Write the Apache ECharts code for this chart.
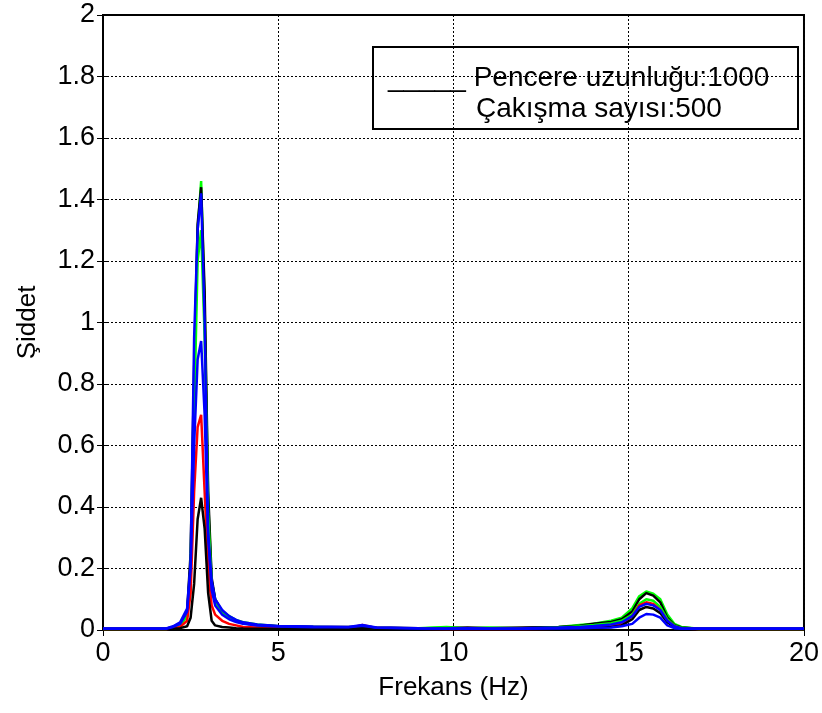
<!DOCTYPE html>
<html>
<head>
<meta charset="utf-8">
<script src="https://cdn.jsdelivr.net/npm/echarts@6/dist/echarts.min.js"></script>
<style>
  html, body { margin: 0; padding: 0; background: #fff; }
  #chart { width: 822px; height: 713px; }
</style>
</head>
<body>
<div id="chart"></div>
<script>
// frekans ekseni (Hz)
const freq = [0, 1.0, 1.8, 2.0, 2.2, 2.4, 2.5, 2.6, 2.7, 2.8, 2.9, 3.0, 3.1, 3.2, 3.4, 3.6, 3.8, 4.0, 4.4, 5.0,
  6.0, 7.0, 7.4, 7.8, 9.0, 9.8, 10.4, 11.0, 12.0, 13.0, 13.6, 14.0, 14.5, 14.8, 15.1, 15.3, 15.5, 15.7, 15.9, 16.1,
  16.3, 16.5, 17.0, 18.0, 20.0]

// siddet degerleri (her olcum)
const greenA = [0.004, 0.004, 0.004, 0.008, 0.018, 0.05, 0.22, 0.8, 1.3, 1.46, 1.05, 0.42, 0.16, 0.1, 0.06, 0.045, 0.032, 0.025, 0.018, 0.012,
  0.01, 0.008, 0.01, 0.006, 0.006, 0.01, 0.006, 0.008, 0.006, 0.01, 0.016, 0.02, 0.03, 0.04, 0.07, 0.11, 0.125, 0.118, 0.1, 0.05,
  0.02, 0.01, 0.004, 0.004, 0.004]
const blackA = [0.004, 0.004, 0.004, 0.01, 0.02, 0.06, 0.25, 0.85, 1.32, 1.44, 1.1, 0.45, 0.17, 0.1, 0.06, 0.04, 0.03, 0.022, 0.016, 0.012,
  0.01, 0.01, 0.01, 0.008, 0.006, 0.006, 0.008, 0.006, 0.008, 0.01, 0.014, 0.02, 0.026, 0.035, 0.06, 0.1, 0.12, 0.112, 0.09, 0.04,
  0.016, 0.008, 0.004, 0.004, 0.004]
const greenB = [0.003, 0.003, 0.003, 0.007, 0.015, 0.045, 0.2, 0.7, 1.2, 1.3, 0.95, 0.38, 0.15, 0.09, 0.055, 0.04, 0.03, 0.022, 0.015, 0.011,
  0.008, 0.008, 0.008, 0.006, 0.005, 0.008, 0.005, 0.006, 0.005, 0.008, 0.012, 0.016, 0.022, 0.03, 0.05, 0.085, 0.1, 0.095, 0.075, 0.035,
  0.014, 0.007, 0.003, 0.003, 0.003]
const redA = [0.003, 0.003, 0.003, 0.005, 0.01, 0.03, 0.12, 0.45, 0.66, 0.70, 0.45, 0.2, 0.08, 0.05, 0.03, 0.02, 0.015, 0.01, 0.008, 0.006,
  0.005, 0.006, 0.016, 0.006, 0.004, 0.003, 0.003, 0.003, 0.003, 0.004, 0.006, 0.008, 0.012, 0.02, 0.045, 0.08, 0.09, 0.085, 0.065, 0.03,
  0.012, 0.005, 0.003, 0.003, 0.003]
const blackB = [0.003, 0.003, 0.003, 0.004, 0.006, 0.012, 0.04, 0.15, 0.36, 0.43, 0.33, 0.12, 0.03, 0.015, 0.01, 0.008, 0.006, 0.005, 0.004, 0.004,
  0.004, 0.004, 0.006, 0.004, 0.003, 0.003, 0.003, 0.003, 0.003, 0.003, 0.004, 0.006, 0.01, 0.015, 0.035, 0.065, 0.075, 0.07, 0.055, 0.025,
  0.01, 0.004, 0.003, 0.003, 0.003]
const blueB = [0.004, 0.004, 0.004, 0.01, 0.02, 0.06, 0.2, 0.6, 0.88, 0.94, 0.7, 0.3, 0.13, 0.08, 0.05, 0.035, 0.026, 0.02, 0.015, 0.011,
  0.009, 0.009, 0.014, 0.007, 0.005, 0.004, 0.005, 0.004, 0.004, 0.005, 0.006, 0.007, 0.008, 0.012, 0.02, 0.04, 0.052, 0.05, 0.04, 0.015,
  0.006, 0.004, 0.004, 0.004, 0.004]
const blueA = [0.005, 0.005, 0.005, 0.012, 0.025, 0.07, 0.22, 0.95, 1.3, 1.42, 1.0, 0.32, 0.16, 0.1, 0.065, 0.045, 0.033, 0.025, 0.018, 0.013,
  0.011, 0.01, 0.016, 0.008, 0.006, 0.005, 0.006, 0.005, 0.006, 0.008, 0.01, 0.013, 0.018, 0.025, 0.045, 0.075, 0.085, 0.08, 0.065, 0.03,
  0.012, 0.006, 0.005, 0.005, 0.005]

const lines = [
  { name: 'greenA', color: '#00ff00', values: greenA },
  { name: 'blackA', color: '#000000', values: blackA },
  { name: 'greenB', color: '#00ff00', values: greenB },
  { name: 'redA', color: '#ff0000', values: redA },
  { name: 'blackB', color: '#000000', values: blackB },
  { name: 'blueB', color: '#0000ff', values: blueB },
  { name: 'blueA', color: '#0000ff', values: blueA }
]

const font = 'Liberation Sans, Arial, sans-serif'
const chart = echarts.init(document.getElementById('chart'))

const gridLine = { show: true, lineStyle: { color: '#000', width: 1, type: [2, 2] } }
const hiddenAxis = {
  axisLine: { show: false },
  axisTick: { show: true, inside: true, length: 6, lineStyle: { color: '#000' } },
  axisLabel: { show: false },
  splitLine: { show: false }
}

const option = {
  animation: false,
  backgroundColor: '#fff',
  grid: {
    left: 103, right: 17, top: 15, bottom: 83,
    show: true, borderColor: '#000', borderWidth: 2, backgroundColor: '#fff'
  },
  xAxis: [{
    type: 'value', min: 0, max: 20, interval: 5,
    name: 'Frekans (Hz)', nameLocation: 'middle', nameGap: 45,
    nameTextStyle: { fontFamily: font, fontSize: 26, color: '#000' },
    axisLine: { show: true, lineStyle: { color: '#000', width: 2 } },
    axisTick: { inside: true, length: 6, lineStyle: { color: '#000' } },
    axisLabel: { fontFamily: font, fontSize: 27, color: '#000', margin: 10 },
    splitLine: gridLine
  }, Object.assign({ type: 'value', min: 0, max: 20, interval: 5, position: 'top' }, hiddenAxis)],
  yAxis: [{
    type: 'value', min: 0, max: 2, interval: 0.2,
    name: 'Şiddet', nameLocation: 'middle', nameGap: 62,
    nameTextStyle: { fontFamily: font, fontSize: 26, color: '#000' },
    axisLine: { show: true, lineStyle: { color: '#000', width: 2 } },
    axisTick: { inside: true, length: 6, lineStyle: { color: '#000' } },
    axisLabel: { fontFamily: font, fontSize: 27, color: '#000', margin: 8 },
    splitLine: gridLine
  }, Object.assign({ type: 'value', min: 0, max: 2, interval: 0.2, position: 'right' }, hiddenAxis)],
  series: lines.map(l => ({
    name: l.name,
    type: 'line',
    xAxisIndex: 0,
    yAxisIndex: 0,
    showSymbol: false,
    symbol: 'none',
    lineStyle: { color: l.color, width: 2.5 },
    data: freq.map((f, i) => [f, l.values[i]])
  })),
  graphic: [{
    type: 'group',
    left: 372,
    top: 46,
    z: 100,
    children: [
      { type: 'rect', shape: { x: 0, y: 0, width: 425, height: 82 }, style: { fill: '#fff', stroke: '#000', lineWidth: 2 } },
      { type: 'text', x: 15, y: 17, style: { text: '_____ Pencere uzunluğu:1000', font: '28px ' + font, fill: '#000' } },
      { type: 'text', x: 103, y: 48, style: { text: 'Çakışma sayısı:500', font: '28px ' + font, fill: '#000' } }
    ]
  }]
}

chart.setOption(option)
</script>
</body>
</html>
